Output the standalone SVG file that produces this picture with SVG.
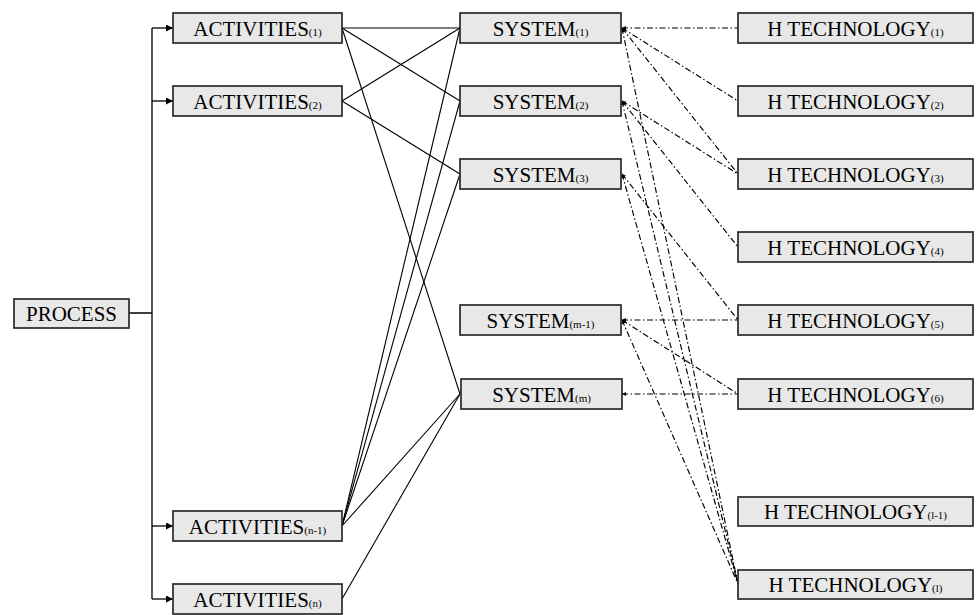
<svg xmlns="http://www.w3.org/2000/svg" width="976" height="615" viewBox="0 0 976 615">
  <style>
    .box { fill: #e8e8e8; stroke: #2a2a2a; stroke-width: 1.7; }
    .lbl { font-family: "Liberation Serif", "Times New Roman", serif; font-size: 21px; fill: #000; text-anchor: middle; }
    .sub { font-size: 11px; }
    .solid { stroke: #000; stroke-width: 1.1; fill: none; }
    .dd { stroke: #000; stroke-width: 1.15; fill: none; stroke-dasharray: 6 2.5 1.5 2.5; marker-start: url(#dot); }
    .bus { stroke: #000; stroke-width: 1.3; fill: none; }
  </style>
  <defs>
    <marker id="tip" viewBox="0 0 10 10" refX="10" refY="5" markerWidth="7" markerHeight="7" markerUnits="userSpaceOnUse" orient="auto">
      <path d="M0,0 L10,5 L0,10 z" fill="#000"/>
    </marker>
    <marker id="dot" viewBox="0 0 10 10" refX="10" refY="5" markerWidth="4" markerHeight="4" markerUnits="userSpaceOnUse" orient="auto-start-reverse">
      <path d="M0,0 L10,5 L0,10 z" fill="#000"/>
    </marker>
  </defs>

  <!-- connectors -->
  <g id="connectors">
    <!-- process bus -->
    <path class="bus" d="M129,313 H152 M152,28 V599"/>
    <path class="bus" d="M152,28 H173" marker-end="url(#tip)"/>
    <path class="bus" d="M152,101 H173" marker-end="url(#tip)"/>
    <path class="bus" d="M152,526 H173" marker-end="url(#tip)"/>
    <path class="bus" d="M152,599 H173" marker-end="url(#tip)"/>

    <!-- activities to systems -->
    <line class="solid" x1="342" y1="28" x2="460" y2="28"/>
    <line class="solid" x1="342" y1="28" x2="460" y2="101"/>
    <line class="solid" x1="342" y1="28" x2="460" y2="394"/>
    <line class="solid" x1="342" y1="101" x2="460" y2="28"/>
    <line class="solid" x1="342" y1="101" x2="460" y2="174"/>
    <line class="solid" x1="342" y1="526" x2="460" y2="28"/>
    <line class="solid" x1="342" y1="526" x2="460" y2="101"/>
    <line class="solid" x1="342" y1="526" x2="460" y2="174"/>
    <line class="solid" x1="342" y1="526" x2="460" y2="394"/>
    <line class="solid" x1="342" y1="599" x2="460" y2="394"/>

    <!-- systems to technologies -->
    <line class="dd" x1="622" y1="28" x2="738" y2="28"/>
    <line class="dd" x1="622" y1="28" x2="738" y2="101"/>
    <line class="dd" x1="622" y1="28" x2="738" y2="174"/>
    <line class="dd" x1="622" y1="28" x2="738" y2="584"/>
    <line class="dd" x1="622" y1="101" x2="738" y2="174"/>
    <line class="dd" x1="622" y1="101" x2="738" y2="247"/>
    <line class="dd" x1="622" y1="101" x2="738" y2="584"/>
    <line class="dd" x1="622" y1="174" x2="738" y2="320"/>
    <line class="dd" x1="622" y1="174" x2="738" y2="584"/>
    <line class="dd" x1="622" y1="320" x2="738" y2="320"/>
    <line class="dd" x1="622" y1="320" x2="738" y2="394"/>
    <line class="dd" x1="622" y1="320" x2="738" y2="584"/>
    <line class="dd" x1="622" y1="394" x2="738" y2="394"/>
  </g>

  <!-- process -->
  <g id="process">
    <rect class="box" x="14" y="299" width="115" height="29"/>
    <text class="lbl" x="71.5" y="321">PROCESS</text>
  </g>

  <!-- activities -->
  <g id="activities-1">
    <rect class="box" x="173" y="13" width="169" height="30"/>
    <text class="lbl" x="257.5" y="36">ACTIVITIES<tspan class="sub">(1)</tspan></text>
  </g>
  <g id="activities-2">
    <rect class="box" x="173" y="86" width="169" height="30"/>
    <text class="lbl" x="257.5" y="109">ACTIVITIES<tspan class="sub">(2)</tspan></text>
  </g>
  <g id="activities-n-1">
    <rect class="box" x="173" y="511" width="169" height="30"/>
    <text class="lbl" x="257.5" y="534">ACTIVITIES<tspan class="sub">(n-1)</tspan></text>
  </g>
  <g id="activities-n">
    <rect class="box" x="173" y="584" width="169" height="30"/>
    <text class="lbl" x="257.5" y="607">ACTIVITIES<tspan class="sub">(n)</tspan></text>
  </g>

  <!-- systems -->
  <g id="system-1">
    <rect class="box" x="460" y="13" width="161" height="30"/>
    <text class="lbl" x="540.5" y="36">SYSTEM<tspan class="sub">(1)</tspan></text>
  </g>
  <g id="system-2">
    <rect class="box" x="460" y="86" width="161" height="30"/>
    <text class="lbl" x="540.5" y="109">SYSTEM<tspan class="sub">(2)</tspan></text>
  </g>
  <g id="system-3">
    <rect class="box" x="460" y="159" width="161" height="30"/>
    <text class="lbl" x="540.5" y="182">SYSTEM<tspan class="sub">(3)</tspan></text>
  </g>
  <g id="system-m-1">
    <rect class="box" x="460" y="305" width="161" height="30"/>
    <text class="lbl" x="540.5" y="328">SYSTEM<tspan class="sub">(m-1)</tspan></text>
  </g>
  <g id="system-m">
    <rect class="box" x="461" y="379" width="161" height="30"/>
    <text class="lbl" x="541.5" y="402">SYSTEM<tspan class="sub">(m)</tspan></text>
  </g>

  <!-- technologies -->
  <g id="tech-1">
    <rect class="box" x="738" y="13" width="235" height="30"/>
    <text class="lbl" x="855.5" y="36">H TECHNOLOGY<tspan class="sub">(1)</tspan></text>
  </g>
  <g id="tech-2">
    <rect class="box" x="738" y="86" width="235" height="30"/>
    <text class="lbl" x="855.5" y="109">H TECHNOLOGY<tspan class="sub">(2)</tspan></text>
  </g>
  <g id="tech-3">
    <rect class="box" x="738" y="159" width="235" height="30"/>
    <text class="lbl" x="855.5" y="182">H TECHNOLOGY<tspan class="sub">(3)</tspan></text>
  </g>
  <g id="tech-4">
    <rect class="box" x="738" y="232" width="235" height="30"/>
    <text class="lbl" x="855.5" y="255">H TECHNOLOGY<tspan class="sub">(4)</tspan></text>
  </g>
  <g id="tech-5">
    <rect class="box" x="738" y="305" width="235" height="30"/>
    <text class="lbl" x="855.5" y="328">H TECHNOLOGY<tspan class="sub">(5)</tspan></text>
  </g>
  <g id="tech-6">
    <rect class="box" x="738" y="379" width="235" height="30"/>
    <text class="lbl" x="855.5" y="402">H TECHNOLOGY<tspan class="sub">(6)</tspan></text>
  </g>
  <g id="tech-l-1">
    <rect class="box" x="738" y="497" width="235" height="29"/>
    <text class="lbl" x="855.5" y="519">H TECHNOLOGY<tspan class="sub">(l-1)</tspan></text>
  </g>
  <g id="tech-l">
    <rect class="box" x="738" y="570" width="235" height="29"/>
    <text class="lbl" x="855.5" y="592">H TECHNOLOGY<tspan class="sub">(l)</tspan></text>
  </g>
</svg>
